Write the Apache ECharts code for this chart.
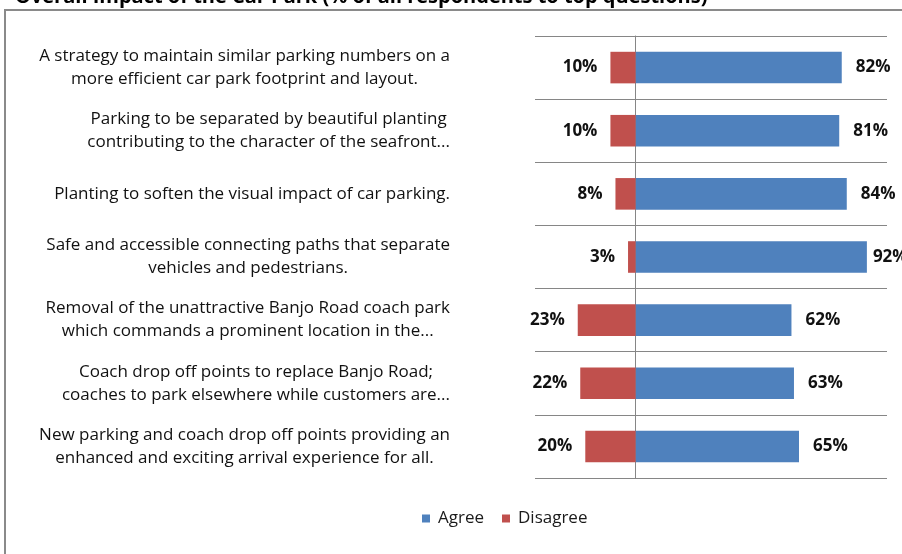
<!DOCTYPE html>
<html>
<head>
<meta charset="utf-8">
<script src="https://cdn.jsdelivr.net/npm/echarts@6/dist/echarts.min.js"></script>
<style>
html,body{margin:0;padding:0;background:#fff;}
#chart{width:902px;height:554px;}
</style>
</head>
<body>
<div id="chart"></div>
<script>
const titleText = "Overall Impact of the Car Park (% of all respondents to top questions)";
const categories = [
  "A strategy to maintain similar parking numbers on a\nmore efficient car park footprint and layout.",
  "Parking to be separated by beautiful planting\ncontributing to the character of the seafront...",
  "Planting to soften the visual impact of car parking.",
  "Safe and accessible connecting paths that separate\nvehicles and pedestrians.",
  "Removal of the unattractive Banjo Road coach park\nwhich commands a prominent location in the...",
  "Coach drop off points to replace Banjo Road;\ncoaches to park elsewhere while customers are...",
  "New parking and coach drop off points providing an\nenhanced and exciting arrival experience for all."
];
const agree = [82, 81, 84, 92, 62, 63, 65];
const disagree = [10, 10, 8, 3, 23, 22, 20];
const seriesNames = ["Agree", "Disagree"];

const FONT = "Open Sans";
const chart = echarts.init(document.getElementById('chart'), null, {renderer: 'canvas'});

function richLabel(text) {
  return text.split('\n').map(l => '{c|' + l + '}').join('\n');
}

const option = {
  animation: false,
  backgroundColor: '#ffffff',
  title: {
    text: titleText,
    left: 10,
    top: -18,
    textStyle: {fontFamily: FONT, fontSize: 20, fontWeight: 'bold', color: '#000'}
  },
  graphic: [{
    type: 'rect',
    shape: {x: 5, y: 10, width: 1000, height: 1000},
    style: {fill: 'none', stroke: '#8a8a8a', lineWidth: 2},
    silent: true
  }],
  legend: {
    data: seriesNames,
    left: 417,
    top: 505,
    icon: 'rect',
    itemWidth: 8,
    itemHeight: 8,
    itemGap: 18,
    textStyle: {fontFamily: FONT, fontSize: 17, color: '#1a1a1a', padding: [0, 0, 0, 3]}
  },
  grid: {left: 535, right: 15, top: 36, bottom: 76, containLabel: false},
  xAxis: {
    type: 'value',
    min: -40,
    max: 100,
    axisLabel: {show: false},
    axisLine: {show: false},
    axisTick: {show: false},
    splitLine: {show: false}
  },
  yAxis: {
    type: 'category',
    inverse: true,
    data: categories,
    axisLine: {show: true, onZero: true, lineStyle: {color: '#868686', width: 1}},
    axisTick: {show: false},
    splitLine: {show: true, lineStyle: {color: '#868686', width: 1}},
    axisLabel: {
      margin: 85,
      align: 'right',
      formatter: v => richLabel(v),
      rich: {
        c: {align: 'center', fontFamily: FONT, fontSize: 17, lineHeight: 23, color: '#111'}
      }
    }
  },
  series: [
    {
      name: seriesNames[0],
      type: 'bar',
      stack: 'total',
      barWidth: '50%',
      itemStyle: {color: '#4F81BD'},
      label: {
        show: true,
        position: 'right',
        distance: 14,
        formatter: p => Math.abs(p.value) + '%',
        fontFamily: FONT, fontSize: 17, fontWeight: 'bold', color: '#111'
      },
      data: agree.map((v, i) => v >= 90 ? {value: v, label: {distance: 6}} : v)
    },
    {
      name: seriesNames[1],
      type: 'bar',
      stack: 'total',
      barWidth: '50%',
      itemStyle: {color: '#C0504D'},
      label: {
        show: true,
        position: 'left',
        distance: 13,
        formatter: p => Math.abs(p.value) + '%',
        fontFamily: FONT, fontSize: 17, fontWeight: 'bold', color: '#111'
      },
      data: disagree.map(v => -v)
    }
  ]
};
chart.setOption(option);
</script>
</body>
</html>
